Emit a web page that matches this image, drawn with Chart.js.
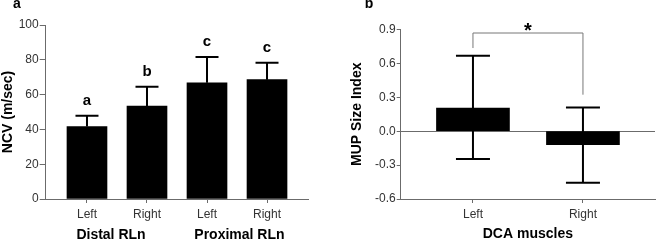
<!DOCTYPE html>
<html>
<head>
<meta charset="utf-8">
<script src="https://cdn.jsdelivr.net/npm/chart.js@4"></script>
<style>
  html, body { margin: 0; padding: 0; background: #fff; }
  body { width: 657px; height: 243px; position: relative; overflow: hidden; }
  canvas { position: absolute; top: 0; }
  #ncv { left: 0; }
  #mup { left: 330px; }
</style>
</head>
<body>
<canvas id="ncv" width="320" height="243"></canvas>
<canvas id="mup" width="327" height="243"></canvas>
<script>
// panel a: nerve conduction velocity
const ncvPos = [1, 2, 3, 4];
const ncvTicks = ["Left", "Right", "Left", "Right"];
const ncvMean = [41.6, 53.4, 66.8, 68.6];
const ncvErrTop = [47.9, 64.5, 81.6, 78.3];
const ncvLetters = ["a", "b", "c", "c"];
const ncvGroups = ["Distal RLn", "Proximal RLn"];
const ncvGroupPos = [1.4, 3.54];

// panel b: MUP size index
const mupPos = [1, 2];
const mupTicks = ["Left", "Right"];
const mupMean = [0.205, -0.119];
const mupErrTop = [0.668, 0.21];
const mupErrLow = [-0.246, -0.456];
const mupBracket = { from: 1, to: 2, top: 0.869, leftEnd: 0.736, rightEnd: 0.323, label: "*" };

const FONT = "'Liberation Sans', Arial, sans-serif";
const AXIS = "#6b6b6b";
const TICK_TEXT = "#333";

Chart.defaults.font.family = FONT;
Chart.defaults.animation = false;

const errorBars = {
  id: "errorBars",
  afterDatasetsDraw(chart, args, opts) {
    const { ctx, scales: { x, y } } = chart;
    ctx.save();
    ctx.strokeStyle = "#000";
    ctx.lineWidth = 2;
    opts.pos.forEach((p, i) => {
      const px = x.getPixelForValue(p);
      const yHi = y.getPixelForValue(opts.high[i]);
      const yLo = y.getPixelForValue(opts.low ? opts.low[i] : opts.mean[i]);
      ctx.beginPath();
      ctx.moveTo(px, yLo);
      ctx.lineTo(px, yHi);
      ctx.moveTo(px - opts.cap / 2, yHi);
      ctx.lineTo(px + opts.cap / 2, yHi);
      if (opts.low) {
        ctx.moveTo(px - opts.cap / 2, yLo);
        ctx.lineTo(px + opts.cap / 2, yLo);
      }
      ctx.stroke();
    });
    ctx.restore();
  },
};

const ncvExtras = {
  id: "ncvExtras",
  afterDraw(chart) {
    const { ctx, scales: { x, y } } = chart;
    ctx.save();
    ctx.fillStyle = "#000";
    ctx.textAlign = "center";
    ctx.textBaseline = "alphabetic";
    ctx.font = "bold 15px " + FONT;
    ncvLetters.forEach((l, i) => {
      ctx.fillText(l, x.getPixelForValue(ncvPos[i]), y.getPixelForValue(ncvErrTop[i]) - 11);
    });
    ctx.font = "bold 14px " + FONT;
    ncvGroups.forEach((g, i) => {
      ctx.fillText(g, x.getPixelForValue(ncvGroupPos[i]), 239);
    });
    ctx.fillText("a", 17, 8);
    ctx.restore();
  },
};

const mupExtras = {
  id: "mupExtras",
  afterDraw(chart) {
    const { ctx, scales: { x, y } } = chart;
    const b = mupBracket;
    const x1 = x.getPixelForValue(b.from);
    const x2 = x.getPixelForValue(b.to);
    const yt = y.getPixelForValue(b.top);
    ctx.save();
    ctx.strokeStyle = "#777";
    ctx.lineWidth = 1;
    ctx.beginPath();
    ctx.moveTo(x1, y.getPixelForValue(b.leftEnd));
    ctx.lineTo(x1, yt);
    ctx.lineTo(x2, yt);
    ctx.lineTo(x2, y.getPixelForValue(b.rightEnd));
    ctx.stroke();
    ctx.fillStyle = "#000";
    ctx.textAlign = "center";
    ctx.font = "bold 20px " + FONT;
    ctx.fillText(b.label, (x1 + x2) / 2, yt + 4);
    ctx.font = "bold 14px " + FONT;
    ctx.fillText("b", 39, 8);
    ctx.restore();
  },
};

function xAxis(pos, labels, min, max, extra) {
  return Object.assign({
    type: "linear",
    min: min,
    max: max,
    offset: false,
    afterBuildTicks: (s) => { s.ticks = pos.map((v) => ({ value: v })); },
    afterFit: (s) => { s.height = 44; },
    border: { color: AXIS, width: 1 },
    grid: { offset: false, drawOnChartArea: false, tickLength: 4, color: AXIS },
    ticks: {
      autoSkip: false,
      maxRotation: 0,
      padding: 4,
      color: TICK_TEXT,
      font: { size: 12 },
      callback: (v) => labels[pos.indexOf(v)],
    },
  }, extra || {});
}

new Chart(document.getElementById("ncv"), {
  type: "bar",
  data: {
    datasets: [{
      data: ncvPos.map((p, i) => ({ x: p, y: ncvMean[i] })),
      backgroundColor: "#000",
      borderWidth: 0,
      barThickness: 40,
    }],
  },
  options: {
    responsive: false,
    devicePixelRatio: 1,
    layout: { padding: { top: 25, right: 12, left: 0, bottom: 0 } },
    plugins: {
      legend: { display: false },
      tooltip: { enabled: false },
      errorBars: { pos: ncvPos, mean: ncvMean, high: ncvErrTop, cap: 23 },
    },
    scales: {
      x: xAxis(ncvPos, ncvTicks, 0.312, 4.683),
      y: {
        min: 0,
        max: 100,
        afterFit: (s) => { s.width = 45.7; },
        border: { color: AXIS, width: 1 },
        grid: { drawOnChartArea: false, tickLength: 6, color: AXIS },
        ticks: { stepSize: 20, padding: 1, color: TICK_TEXT, font: { size: 12 } },
        title: {
          display: true,
          text: "NCV (m/sec)",
          color: "#000",
          padding: 0,
          font: { size: 14, weight: "bold", lineHeight: 1.1 },
        },
      },
    },
  },
  plugins: [errorBars, ncvExtras],
});

new Chart(document.getElementById("mup"), {
  type: "bar",
  data: {
    datasets: [{
      data: mupPos.map((p, i) => ({ x: p, y: mupMean[i] })),
      backgroundColor: "#000",
      borderWidth: 0,
      barThickness: 73,
    }],
  },
  options: {
    responsive: false,
    devicePixelRatio: 1,
    layout: { padding: { top: 29.5, right: 2, left: 19, bottom: 0 } },
    plugins: {
      legend: { display: false },
      tooltip: { enabled: false },
      errorBars: { pos: mupPos, mean: mupMean, high: mupErrTop, low: mupErrLow, cap: 34 },
    },
    scales: {
      x: xAxis(mupPos, mupTicks, 0.343, 2.655, {
        title: {
          display: true,
          text: "DCA muscles",
          color: "#000",
          padding: 0,
          font: { size: 14, weight: "bold", lineHeight: 1.2 },
        },
      }),
      y: {
        min: -0.6,
        max: 0.9,
        afterFit: (s) => { s.width = 51.7; },
        border: { color: AXIS, width: 1 },
        grid: {
          drawOnChartArea: true,
          tickLength: 4,
          tickColor: AXIS,
          color: (c) => (c.tick && Math.abs(c.tick.value) < 1e-9 ? AXIS : "rgba(0,0,0,0)"),
        },
        ticks: {
          stepSize: 0.3,
          padding: 1,
          color: TICK_TEXT,
          font: { size: 12 },
          callback: (v) => (Math.abs(v) < 1e-9 ? 0 : v).toFixed(1),
        },
        title: {
          display: true,
          text: "MUP Size Index",
          color: "#000",
          padding: 0,
          font: { size: 14, weight: "bold", lineHeight: 1.1 },
        },
      },
    },
  },
  plugins: [errorBars, mupExtras],
});
</script>
</body>
</html>
